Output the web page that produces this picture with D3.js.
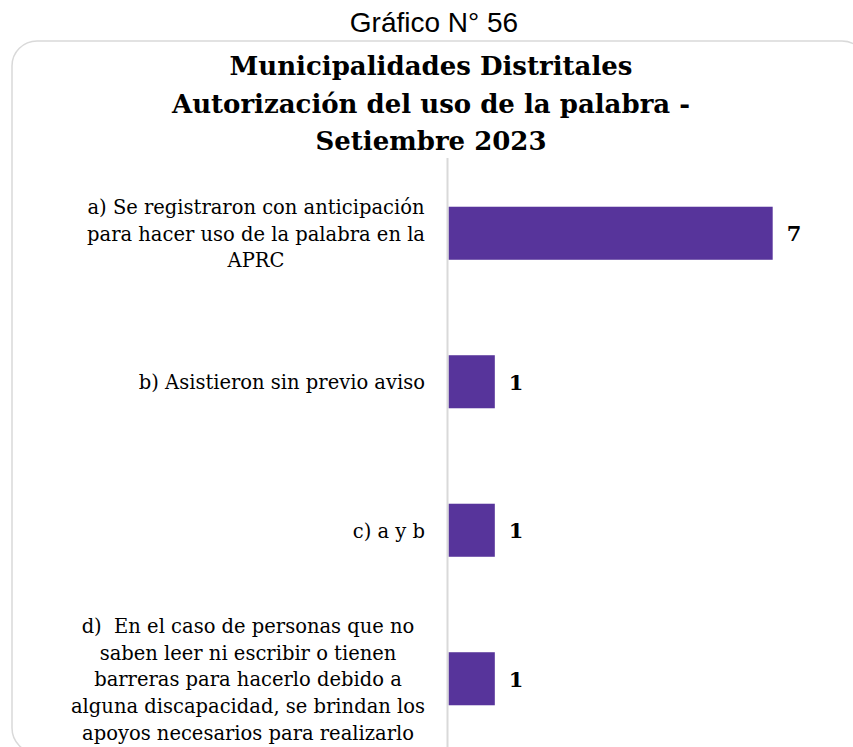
<!DOCTYPE html>
<html>
<head>
<meta charset="utf-8">
<script src="https://cdn.jsdelivr.net/npm/d3@7"></script>
<style>
  html, body { margin: 0; padding: 0; background: #fff; }
  svg { display: block; }
  text { white-space: pre; }
</style>
</head>
<body>
<svg id="chart" width="853" height="747"></svg>
<script>
// ---- data ----
const supTitle = "Gráfico N° 56";
const titleLines = ["Municipalidades Distritales", "Autorización del uso de la palabra -", "Setiembre 2023"];
const categories = [
  ["a) Se registraron con anticipación", "para hacer uso de la palabra en la", "APRC"],
  ["b) Asistieron sin previo aviso"],
  ["c) a y b"],
  ["d)  En el caso de personas que no", "saben leer ni escribir o tienen", "barreras para hacerlo debido a", "alguna discapacidad, se brindan los", "apoyos necesarios para realizarlo"]
];
const values = [7, 1, 1, 1];
const xDomain = [0, 8];

// ---- drawing ----
const svg = d3.select("#chart");
const barColor = "#57349b";
const serif = "'DejaVu Serif', 'Liberation Serif', serif";

// chart border (rounded, extends beyond the window on right/bottom)
svg.append("rect")
  .attr("x", 12).attr("y", 41)
  .attr("width", 855).attr("height", 712)
  .attr("rx", 25).attr("ry", 25)
  .attr("fill", "#fff")
  .attr("stroke", "#d9d9d9").attr("stroke-width", 1.5);

// super title
svg.append("text")
  .attr("x", 434).attr("y", 32)
  .attr("text-anchor", "middle")
  .attr("font-family", "'Liberation Sans', Arial, sans-serif")
  .attr("font-size", 28)
  .attr("fill", "#000")
  .text(supTitle);

// chart title
svg.append("g").selectAll("text")
  .data(titleLines)
  .join("text")
  .attr("x", 431)
  .attr("y", (d, i) => 75 + i * 37.5)
  .attr("text-anchor", "middle")
  .attr("font-family", serif)
  .attr("font-weight", "bold")
  .attr("font-size", 26)
  .attr("fill", "#000")
  .text(d => d);

// scales
const idx = categories.map((d, i) => i);
const gap = 1.8;
const y = d3.scaleBand()
  .domain(idx)
  .range([159, 753])
  .paddingInner(gap / (1 + gap))
  .paddingOuter(gap / (2 * (1 + gap)));
const x = d3.scaleLinear().domain(xDomain).range([448.5, 819]);

// bars
svg.append("g").selectAll("rect")
  .data(values)
  .join("rect")
  .attr("x", x(0))
  .attr("y", (d, i) => y(i))
  .attr("width", d => x(d) - x(0))
  .attr("height", y.bandwidth())
  .attr("fill", barColor);

// vertical axis line (category axis)
const yAxis = d3.axisLeft(y).tickSize(0).tickFormat("");
const gAxis = svg.append("g")
  .attr("transform", `translate(${x(0) - 1},0)`)
  .call(yAxis);
gAxis.select(".domain")
  .attr("d", `M0,158V760`)
  .attr("stroke", "#d9d9d9")
  .attr("stroke-width", 2);

// category labels (multi-line, centered within right-aligned box)
const labelRight = 425;
const lineH = 26.7;
const labelFont = 19.5;
const labels = svg.append("g");
categories.forEach((lines, i) => {
  const cy = y(i) + y.bandwidth() / 2;
  const g = labels.append("g");
  const texts = g.selectAll("text")
    .data(lines)
    .join("text")
    .attr("font-family", serif)
    .attr("font-size", labelFont)
    .attr("fill", "#000")
    .attr("text-anchor", "middle")
    .attr("y", (d, j) => cy + (j - (lines.length - 1) / 2) * lineH + 7.5)
    .text(d => d);
  let maxW = 0;
  texts.each(function () { maxW = Math.max(maxW, this.getComputedTextLength()); });
  texts.attr("x", labelRight - maxW / 2);
});

// value labels
svg.append("g").selectAll("text")
  .data(values)
  .join("text")
  .attr("x", d => x(d) + 14)
  .attr("y", (d, i) => y(i) + y.bandwidth() / 2 + 8)
  .attr("font-family", serif)
  .attr("font-weight", "bold")
  .attr("font-size", 21)
  .attr("fill", "#000")
  .text(d => d);
</script>
</body>
</html>
